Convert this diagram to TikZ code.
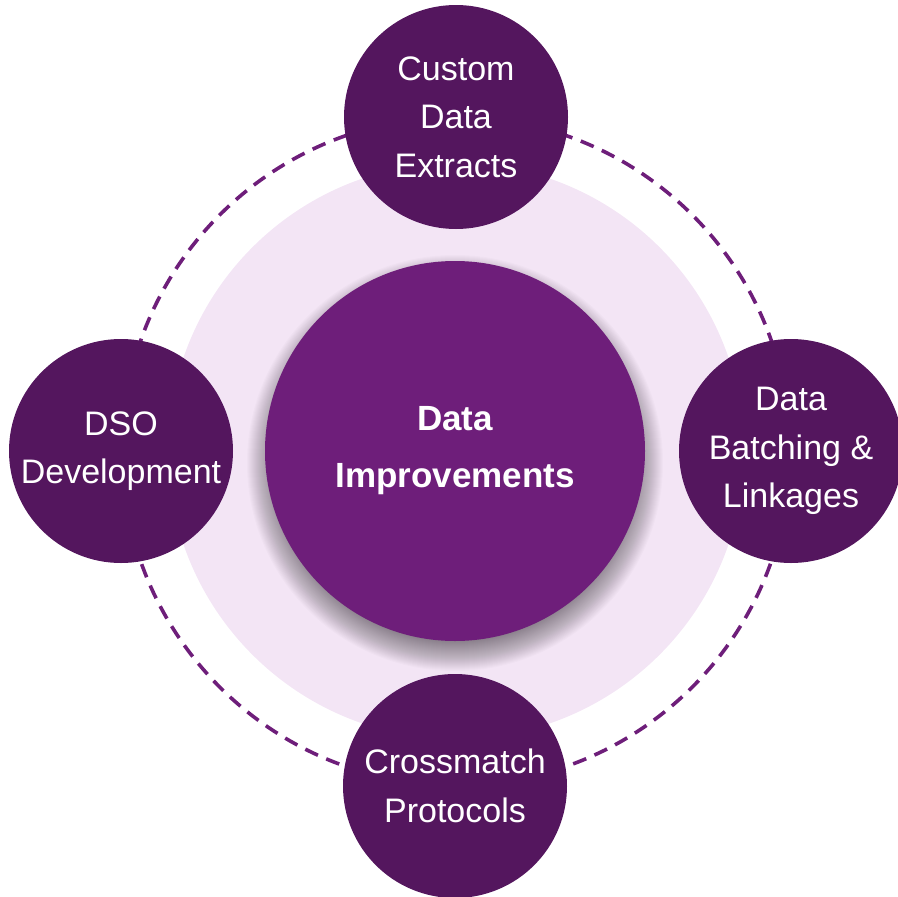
\documentclass[tikz,border=0pt]{standalone}
\usepackage{fontspec}
\setsansfont{Liberation Sans}
\usetikzlibrary{positioning}

\definecolor{hubpurple}{HTML}{6E1E7A}
\definecolor{leafpurple}{HTML}{54165E}
\definecolor{halopink}{HTML}{F3E5F5}

\begin{document}
\begin{tikzpicture}[
    x=1pt, y=-1pt,
    font=\sffamily,
    hub/.style={circle, fill=hubpurple, text=white, minimum size=380pt, inner sep=0pt, align=center, font=\sffamily\bfseries\fontsize{35}{57}\selectfont},
    leaf/.style={circle, fill=leafpurple, text=white, minimum size=224pt, inner sep=0pt, align=center, font=\sffamily\fontsize{34}{48.5}\selectfont},
    ring/.style={draw=hubpurple, line width=3.6pt, dash pattern=on 14pt off 9pt}
]
    \useasboundingbox (0, 0) rectangle (897, 897);

    % Light halo and dashed orbit
    \fill [halopink] (456, 451) circle [radius=288];
    \draw [ring] (456, 451) circle [radius=334];

    % Soft shadow below the hub
    \foreach \r in {1,...,30} {
        \fill [black, opacity=0.016] (455, 463) circle [radius=178+\r];
    }

    % Hub
    \node [hub] (hub) at (455, 451) {Data\\Improvements};

    % Satellites
    \node [leaf] (extracts)   at (456, 117) {Custom\\Data\\Extracts};
    \node [leaf] (batching)   at (791, 451) {Data\\Batching \&\\Linkages};
    \node [leaf] (crossmatch) at (455, 786) {Crossmatch\\Protocols};
    \node [leaf] (dso)        at (121, 451) {DSO\\Development};

\end{tikzpicture}
\end{document}
